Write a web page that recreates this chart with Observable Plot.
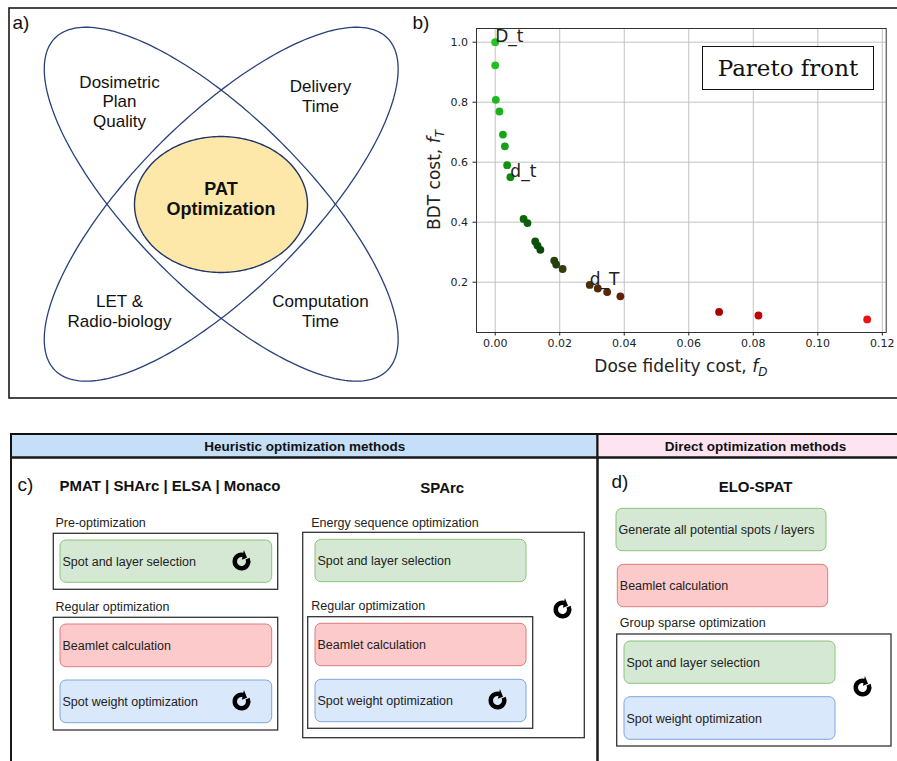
<!DOCTYPE html>
<html><head><meta charset="utf-8">
<script src="https://cdn.jsdelivr.net/npm/d3@7"></script>
<script src="https://cdn.jsdelivr.net/npm/@observablehq/plot@0.6"></script>
<style>
html,body{margin:0;padding:0;background:#fff;}
#fig{position:relative;width:897px;height:761px;overflow:hidden;background:#fff;}
#fig > svg, #fig > div.abs {position:absolute;}
#legend{box-sizing:border-box;border:1.5px solid #111;display:flex;align-items:center;justify-content:center;font-family:"DejaVu Serif",serif;font-size:23px;color:#111;background:#fff;}
</style></head><body><div id="fig"></div>
<script>
// ---------------- DATA ----------------
const doseFidelityCost = [0.0000,0.0000,0.0002,0.0013,0.0024,0.0030,0.0037,0.0047,0.0088,0.0100,0.0124,0.0131,0.0140,0.0183,0.0189,0.0209,0.0293,0.0318,0.0347,0.0388,0.0694,0.0816,0.1153];
const bdtCost = [1.000,0.923,0.808,0.769,0.692,0.653,0.590,0.550,0.411,0.397,0.336,0.322,0.308,0.272,0.259,0.244,0.191,0.179,0.167,0.153,0.101,0.089,0.076];
const annotatedIndex = [0, 7, 16];
const annotationText = ["D_t", "d_t", "d_T"];
const xTicks = [0, 0.02, 0.04, 0.06, 0.08, 0.10, 0.12];
const yTicks = [0.2, 0.4, 0.6, 0.8, 1.0];
const xLabel = ["Dose fidelity cost, ", "f", "D"];
const yLabel = ["BDT cost, ", "f", "T"];
const legendText = "Pareto front";
const vennCenterText = "PAT\nOptimization";
const vennLobeTexts = ["Dosimetric\nPlan\nQuality", "Delivery\nTime", "LET &\nRadio-biology", "Computation\nTime"];
const panelLetters = ["a)", "b)", "c)", "d)"];
const headerTexts = ["Heuristic optimization methods", "Direct optimization methods"];
const methodNames = ["PMAT | SHArc | ELSA | Monaco", "SPArc", "ELO-SPAT"];
const stageNames = ["Pre-optimization", "Regular optimization", "Energy sequence optimization", "Regular optimization", "Group sparse optimization"];
const stepNames = ["Spot and layer selection", "Beamlet calculation", "Spot weight optimization",
  "Spot and layer selection", "Beamlet calculation", "Spot weight optimization",
  "Generate all potential spots / layers", "Beamlet calculation", "Spot and layer selection", "Spot weight optimization"];
const stepKinds = ["select","beamlet","weight","select","beamlet","weight","select","beamlet","select","weight"];

// ---------------- STYLES ----------------
const dotColors = ["#22c322","#20c020","#1cb81c","#1ab21a","#17a517","#159f15","#129212","#108a10",
  "#0c660c","#0c600c","#0a520a","#0a4e0a","#094a09","#24420a","#283e0a","#363c0c",
  "#4a2e0a","#502a08","#582606","#632205","#a80404","#c40202","#e81414"];
const kindFill = {select:"#d5e8d4", beamlet:"#fccaca", weight:"#dae8fc"};
const kindStroke = {select:"#8cc47a", beamlet:"#e07a7a", weight:"#7ea6dc"};
const sansFont = "Liberation Sans, Arial, sans-serif";

// ---------------- LAYOUT (diagram coordinates, px) ----------------
const W = 897, H = 761;
const frameRects = [
  {x1:9, x2:899, y1:8, y2:398, w:1.6},
  {x1:11, x2:597.5, y1:457.5, y2:780, w:2},
  {x1:597.5, x2:899, y1:457.5, y2:780, w:2}
];
const headerRects = [
  {x1:11, x2:597.5, y1:434, y2:457.5, fill:"#c4dff7"},
  {x1:597.5, x2:899, y1:434, y2:457.5, fill:"#fce4f1"}
];
const headerPos = [[304.2, 450.5], [755, 450.5]];
const groupRects = [[53.3,277.7,533.3,589.3],[53.3,277.7,617.3,730],[302.7,584.3,532.3,737.7],[307.7,532.7,616.7,728.3],[616.7,891,634,746]];
const stepRects = [[60,271.7,540,582.3],[60,271.7,624,666.7],[60,271.7,680,722.7],
  [315,526,539.3,581.7],[315,526,623.3,665.7],[315,526,679.3,721.7],
  [616,826,508.3,550.7],[617.3,827.7,564.3,606.7],[624,835,641,683.3],[624,835,696.7,739.3]];
const stagePos = [[55,526],[55,610.5],[310.7,526],[310.7,609.3],[619.3,626.7]];
const methodPos = [[59,490.7,"start"],[441.7,492.7,"middle"],[755,491.7,"middle"]];
const letterPos = [[12,28],[412,28],[17,490],[611,487]];
const iconPos = [[241,561],[241,701],[562,609],[497,700],[862,687]];
const vennCx = 220.7, vennCy = 203.7;
const lobeEllipses = [{a:235, b:86, angle:45}, {a:235, b:86, angle:-45}];
const centerEllipse = {rx:86.5, ry:68};
const lobeTextPos = [[119,87.3],[320,91.7],[119,306.7],[320,306.7]];
const centerTextPos = [220.5, 194];

function ellipsePoints(cx, cy, a, b, angleDeg, n = 240) {
  const t = angleDeg * Math.PI / 180, c = Math.cos(t), s = Math.sin(t);
  return d3.range(n + 1).map(k => {
    const u = 2 * Math.PI * k / n, ex = a * Math.cos(u), ey = b * Math.sin(u);
    return {x: cx + ex * c - ey * s, y: cy + ex * s + ey * c};
  });
}

const refreshSymbol = {
  draw(ctx, size) {
    const R = Math.sqrt(size / Math.PI), r = R * 0.5;
    const a0 = -25 * Math.PI / 180, a1 = 282 * Math.PI / 180;
    ctx.moveTo(R * Math.cos(a0), R * Math.sin(a0));
    ctx.arc(0, 0, R, a0, a1, false);
    ctx.lineTo(r * Math.cos(a1), r * Math.sin(a1));
    ctx.arc(0, 0, r, a1, a0, true);
    ctx.closePath();
    const m = (R + r) / 2, ri = r - 0.3 * R, ro = R + 0.3 * R, at = a1 + 0.75;
    ctx.moveTo(ri * Math.cos(a1), ri * Math.sin(a1));
    ctx.lineTo(ro * Math.cos(a1), ro * Math.sin(a1));
    ctx.lineTo(m * Math.cos(at), m * Math.sin(at));
    ctx.closePath();
  }
};

// ---------------- DIAGRAM (panels a, c, d) ----------------
const lobeLines = lobeEllipses.map(e => ellipsePoints(vennCx, vennCy, e.a, e.b, e.angle));
const centerLine = ellipsePoints(vennCx - 0.2, vennCy + 0.3, centerEllipse.rx, centerEllipse.ry, 0);

const lobeTextRows = vennLobeTexts.flatMap((t, i) => t.split("\n").map((line, j) => ({x: lobeTextPos[i][0], y: lobeTextPos[i][1] + j * 19.4, t: line})));
const centerTextRows = vennCenterText.split("\n").map((line, j) => ({x: centerTextPos[0], y: centerTextPos[1] + j * 20, t: line}));

const steps = stepNames.map((t, i) => ({t, kind: stepKinds[i], x1: stepRects[i][0], x2: stepRects[i][1], y1: stepRects[i][2], y2: stepRects[i][3]}));
const groups = groupRects.map(g => ({x1: g[0], x2: g[1], y1: g[2], y2: g[3]}));
const stages = stageNames.map((t, i) => ({t, x: stagePos[i][0], y: stagePos[i][1]}));
const methods = methodNames.map((t, i) => ({t, x: methodPos[i][0], y: methodPos[i][1], anchor: methodPos[i][2]}));
const headers = headerTexts.map((t, i) => ({...headerRects[i], t, tx: headerPos[i][0], ty: headerPos[i][1]}));
const letters = panelLetters.map((t, i) => ({t, x: letterPos[i][0], y: letterPos[i][1]}));
const icons = iconPos.map(p => ({x: p[0], y: p[1]}));

const diagram = Plot.plot({
  width: W, height: H, margin: 0,
  x: {domain: [0, W], range: [0, W]},
  y: {domain: [0, H], range: [0, H]},
  axis: null,
  style: {background: "#fff", fontFamily: sansFont, color: "#111"},
  marks: [
    // panel a
    ...lobeLines.map(pts => Plot.line(pts, {x: "x", y: "y", stroke: "#27417a", strokeWidth: 1.3})),
    Plot.line(centerLine, {x: "x", y: "y", stroke: "#1f3564", strokeWidth: 1.4, fill: "#fde8aa"}),
    Plot.text(lobeTextRows, {x: "x", y: "y", text: "t", textAnchor: "middle", lineAnchor: "bottom", fontSize: 17, fill: "#111"}),
    Plot.text(centerTextRows, {x: "x", y: "y", text: "t", textAnchor: "middle", lineAnchor: "bottom", fontSize: 18, fontWeight: "bold", fill: "#111"}),
    // frames
    Plot.rect(headers, {x1: "x1", x2: "x2", y1: "y1", y2: "y2", fill: "fill", stroke: "#111", strokeWidth: 2}),
    Plot.text(headers, {x: "tx", y: "ty", text: "t", textAnchor: "middle", lineAnchor: "bottom", fontSize: 13.5, fontWeight: "bold", fill: "#111"}),
    Plot.rect(frameRects, {x1: "x1", x2: "x2", y1: "y1", y2: "y2", fill: "none", stroke: "#1a1a1a", strokeWidth: "w"}),
    // panels c, d
    Plot.rect(groups, {x1: "x1", x2: "x2", y1: "y1", y2: "y2", fill: "none", stroke: "#333", strokeWidth: 1.3}),
    Plot.rect(steps, {x1: "x1", x2: "x2", y1: "y1", y2: "y2", rx: 6, fill: d => kindFill[d.kind], stroke: d => kindStroke[d.kind], strokeWidth: 1}),
    Plot.text(steps, {x: d => d.x1 + 2, y: d => (d.y1 + d.y2) / 2, text: "t", textAnchor: "start", lineAnchor: "middle", fontSize: 12.5, fill: "#222"}),
    Plot.text(stages, {x: "x", y: "y", text: "t", textAnchor: "start", lineAnchor: "bottom", fontSize: 12.5, fill: "#222"}),
    Plot.text(methods.filter(d => d.anchor === "start"), {x: "x", y: "y", text: "t", textAnchor: "start", lineAnchor: "bottom", fontSize: 15, fontWeight: "bold", fill: "#111"}),
    Plot.text(methods.filter(d => d.anchor === "middle"), {x: "x", y: "y", text: "t", textAnchor: "middle", lineAnchor: "bottom", fontSize: 15, fontWeight: "bold", fill: "#111"}),
    Plot.text(letters, {x: "x", y: "y", text: "t", textAnchor: "start", lineAnchor: "bottom", fontSize: 19, fill: "#111"}),
    Plot.dot(icons, {x: "x", y: "y", r: 9, symbol: refreshSymbol, fill: "#000", stroke: "none"})
  ]
});
diagram.style.left = "0px"; diagram.style.top = "0px";
document.getElementById("fig").appendChild(diagram);

// ---------------- SCATTER (panel b) ----------------
const points = doseFidelityCost.map((x, i) => ({x, y: bdtCost[i], c: dotColors[i]}));
const annotations = annotatedIndex.map((i, k) => ({x: doseFidelityCost[i], y: bdtCost[i], t: annotationText[k]}));
const SW = 477, SH = 398, mL = 56, mR = 11.3, mT = 28, mB = 66;
const scatter = Plot.plot({
  width: SW, height: SH,
  marginLeft: mL, marginRight: mR, marginTop: mT, marginBottom: mB,
  style: {background: "transparent", fontFamily: "DejaVu Sans, sans-serif", fontSize: "11px", color: "#222", overflow: "visible"},
  x: {domain: [-0.0058, 0.1212], label: null},
  y: {domain: [0.0323, 1.0457], label: null},
  color: {type: "identity"},
  marks: [
    Plot.gridX(xTicks, {stroke: "#c2c2c2", strokeOpacity: 1, strokeWidth: 1}),
    Plot.gridY(yTicks, {stroke: "#c2c2c2", strokeOpacity: 1, strokeWidth: 1}),
    Plot.frame({stroke: "#333", strokeWidth: 1}),
    Plot.axisX(xTicks, {tickFormat: d3.format(".2f"), tickSize: 3.5, tickPadding: 3, label: null, fontSize: 11}),
    Plot.axisY(yTicks, {tickFormat: d3.format(".1f"), tickSize: 3.5, tickPadding: 5, label: null, fontSize: 11}),
    Plot.dot(points, {x: "x", y: "y", r: 3.9, fill: "c", stroke: null}),
    Plot.text(annotations, {x: "x", y: "y", text: "t", textAnchor: "start", lineAnchor: "bottom", fontSize: 17, fill: "#222"})
  ]
});
scatter.style.left = "420px"; scatter.style.top = "0px";
const ss = d3.select(scatter);
const xl = ss.append("text").attr("x", mL + (SW - mL - mR) / 2).attr("y", 371.7)
  .attr("text-anchor", "middle").attr("font-size", 17).attr("font-family", "DejaVu Sans, sans-serif").attr("fill", "#222");
xl.append("tspan").text(xLabel[0]);
xl.append("tspan").attr("font-style", "italic").text(xLabel[1]);
xl.append("tspan").attr("font-style", "italic").attr("font-size", 12).attr("dy", 4).text(xLabel[2]);
const yl = ss.append("text").attr("transform", `translate(20,${mT + (SH - mT - mB) / 2}) rotate(-90)`)
  .attr("text-anchor", "middle").attr("font-size", 17).attr("font-family", "DejaVu Sans, sans-serif").attr("fill", "#222");
yl.append("tspan").text(yLabel[0]);
yl.append("tspan").attr("font-style", "italic").text(yLabel[1]);
yl.append("tspan").attr("font-style", "italic").attr("font-size", 12).attr("dy", 4).text(yLabel[2]);
document.getElementById("fig").appendChild(scatter);

// legend box
const lg = document.createElement("div");
lg.id = "legend"; lg.className = "abs";
lg.style.left = "701.7px"; lg.style.top = "45.7px"; lg.style.width = "172.6px"; lg.style.height = "44.3px";
lg.textContent = legendText;
document.getElementById("fig").appendChild(lg);
</script></body></html>
